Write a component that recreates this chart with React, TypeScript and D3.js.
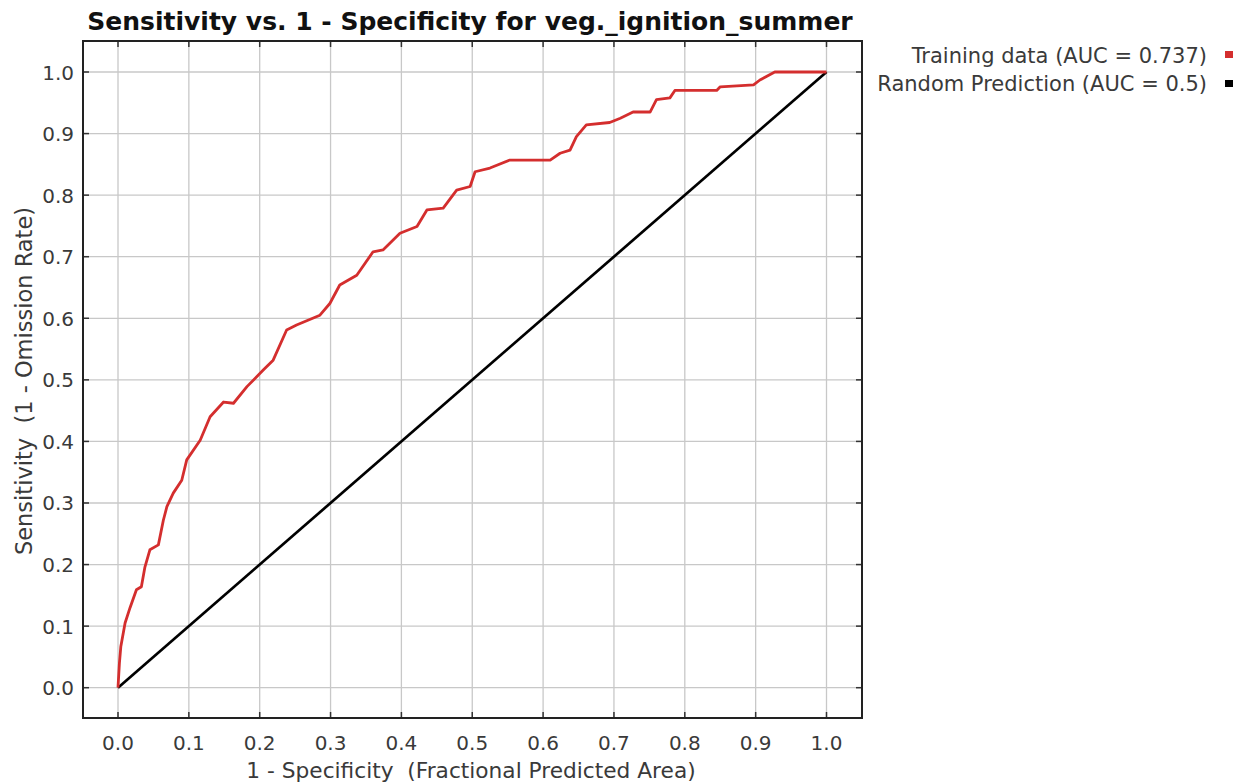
import React from "react";
import * as d3 from "d3";

const xTicks = [0, 0.1, 0.2, 0.3, 0.4, 0.5, 0.6, 0.7, 0.8, 0.9, 1.0];
const yTicks = [0, 0.1, 0.2, 0.3, 0.4, 0.5, 0.6, 0.7, 0.8, 0.9, 1.0];

const trainingX = [0, 0.002, 0.004, 0.01, 0.017, 0.026, 0.033, 0.038, 0.045, 0.057, 0.064, 0.069, 0.078, 0.09, 0.097, 0.116, 0.13, 0.149, 0.163, 0.182, 0.205, 0.219, 0.238, 0.252, 0.285, 0.299, 0.313, 0.337, 0.36, 0.374, 0.398, 0.422, 0.436, 0.459, 0.478, 0.497, 0.504, 0.525, 0.553, 0.61, 0.624, 0.638, 0.647, 0.661, 0.694, 0.709, 0.727, 0.751, 0.76, 0.779, 0.786, 0.845, 0.85, 0.897, 0.906, 0.927, 1.0];
const trainingY = [0, 0.04, 0.067, 0.105, 0.13, 0.159, 0.164, 0.196, 0.224, 0.232, 0.272, 0.294, 0.316, 0.337, 0.37, 0.402, 0.44, 0.464, 0.462, 0.489, 0.516, 0.532, 0.581, 0.589, 0.605, 0.624, 0.654, 0.67, 0.708, 0.711, 0.738, 0.749, 0.776, 0.779, 0.808, 0.814, 0.838, 0.844, 0.857, 0.857, 0.868, 0.873, 0.895, 0.914, 0.918, 0.925, 0.935, 0.935, 0.955, 0.958, 0.97, 0.97, 0.976, 0.979, 0.987, 1.0, 1.0];
const randomX = [0, 1];
const randomY = [0, 1];

const legendLabels = ["Training data (AUC = 0.737)", "Random Prediction (AUC = 0.5)"];
const legendColors = ["#d42e2e", "#000000"];

const title = "Sensitivity vs. 1 - Specificity for veg._ignition_summer";
const xLabel = "1 - Specificity  (Fractional Predicted Area)";
const yLabel = "Sensitivity  (1 - Omission Rate)";

export default function App() {
  const W = 1246, H = 782;
  const frame = { left: 83, top: 41, right: 862, bottom: 718 };
  const x = d3.scaleLinear().domain([0, 1]).range([118, 826.5]);
  const y = d3.scaleLinear().domain([0, 1]).range([687.7, 72]);
  const line = d3.line<[number, number]>().x(d => x(d[0])).y(d => y(d[1]));
  const trainPts: [number, number][] = trainingX.map((v, i) => [v, trainingY[i]]);
  const randPts: [number, number][] = randomX.map((v, i) => [v, randomY[i]]);
  const font = "DejaVu Sans, sans-serif";
  const tickLen = 6;
  const pre: React.CSSProperties = { whiteSpace: "pre" };
  return (
    <svg width={W} height={H} style={{ position: "absolute", left: 0, top: 0, background: "#fff" }}>
      <rect x={0} y={0} width={W} height={H} fill="#fff" />
      {xTicks.map(t => (
        <line key={"gx" + t} x1={x(t)} x2={x(t)} y1={frame.top} y2={frame.bottom} stroke="#c8c8c8" strokeWidth={1.3} />
      ))}
      {yTicks.map(t => (
        <line key={"gy" + t} y1={y(t)} y2={y(t)} x1={frame.left} x2={frame.right} stroke="#c8c8c8" strokeWidth={1.3} />
      ))}
      {xTicks.map(t => (
        <g key={"tx" + t}>
          <line x1={x(t)} x2={x(t)} y1={frame.bottom} y2={frame.bottom - tickLen} stroke="#333" strokeWidth={1.5} />
          <line x1={x(t)} x2={x(t)} y1={frame.top} y2={frame.top + tickLen} stroke="#333" strokeWidth={1.5} />
          <text x={x(t)} y={750} textAnchor="middle" fontFamily={font} fontSize={20} fill="#3a3a3a">{t.toFixed(1)}</text>
        </g>
      ))}
      {yTicks.map(t => (
        <g key={"ty" + t}>
          <line y1={y(t)} y2={y(t)} x1={frame.left} x2={frame.left + tickLen} stroke="#333" strokeWidth={1.5} />
          <line y1={y(t)} y2={y(t)} x1={frame.right} x2={frame.right - tickLen} stroke="#333" strokeWidth={1.5} />
          <text x={74} y={y(t) + 7.5} textAnchor="end" fontFamily={font} fontSize={20} fill="#3a3a3a">{t.toFixed(1)}</text>
        </g>
      ))}
      <rect x={frame.left} y={frame.top} width={frame.right - frame.left} height={frame.bottom - frame.top} fill="none" stroke="#222" strokeWidth={2} />
      <path d={line(randPts) || ""} fill="none" stroke={legendColors[1]} strokeWidth={2.7} />
      <path d={line(trainPts) || ""} fill="none" stroke={legendColors[0]} strokeWidth={2.8} strokeLinejoin="round" />
      <text x={470} y={30} textAnchor="middle" fontFamily={font} fontSize={25} fontWeight="bold" fill="#111">{title}</text>
      <text x={471} y={778} textAnchor="middle" fontFamily={font} fontSize={21.7} fill="#3a3a3a" style={pre}>{xLabel}</text>
      <text transform={`translate(32,381) rotate(-90)`} textAnchor="middle" fontFamily={font} fontSize={22.5} fill="#3a3a3a" style={pre}>{yLabel}</text>
      {legendLabels.map((l, i) => (
        <g key={l}>
          <text x={1207} y={63 + i * 28} textAnchor="end" fontFamily={font} fontSize={21} fill="#3a3a3a">{l}</text>
          <rect x={1225} y={51 + i * 29} width={8} height={7} fill={legendColors[i]} />
        </g>
      ))}
    </svg>
  );
}
